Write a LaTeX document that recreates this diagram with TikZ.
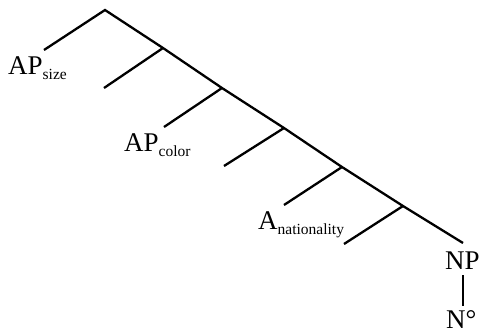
\documentclass[tikz,border=0pt]{standalone}
\usepackage{fontspec}
\setmainfont{Liberation Serif}
\newcommand{\lbsub}[1]{\raisebox{-5pt}{\fontsize{15.5}{17}\selectfont #1}}
\begin{document}
\begin{tikzpicture}[x=1pt,y=-1pt,
  branch/.style={line width=2.3pt,line cap=butt},
  lab/.style={inner sep=0pt,anchor=base west,font=\fontsize{27}{30}\selectfont}]
\useasboundingbox (0,0) rectangle (479,333);
% spine points
\coordinate (r) at (105,10);
\coordinate (n1) at (163,48);
\coordinate (n2) at (222,88);
\coordinate (n3) at (284,128);
\coordinate (n4) at (342,167);
\coordinate (n5) at (403,206);
\coordinate (e) at (463,243);
% left leaves
\coordinate (l0) at (44,50);
\coordinate (l1) at (104,88);
\coordinate (l2) at (164,127);
\coordinate (l3) at (224,166);
\coordinate (l4) at (284,205);
\coordinate (l5) at (344,244);
% NP to N
\coordinate (v1) at (463,275);
\coordinate (v2) at (463,306);
\draw[branch] (l0) -- (r) -- (n1) -- (n2) -- (n3) -- (n4) -- (n5) -- (e);
\draw[branch] (n1) -- (l1);
\draw[branch] (n2) -- (l2);
\draw[branch] (n3) -- (l3);
\draw[branch] (n4) -- (l4);
\draw[branch] (n5) -- (l5);
\draw[branch] (v1) -- (v2);
\node[lab] (apsize) at (8,74) {AP\lbsub{size}};
\node[lab] (apcolor) at (124,151) {AP\lbsub{color}};
\node[lab] (anat) at (258,229) {A\lbsub{nationality}};
\node[lab] (np) at (445,269) {NP};
\node[lab] (n0) at (446,328) {N°};
\end{tikzpicture}
\end{document}
